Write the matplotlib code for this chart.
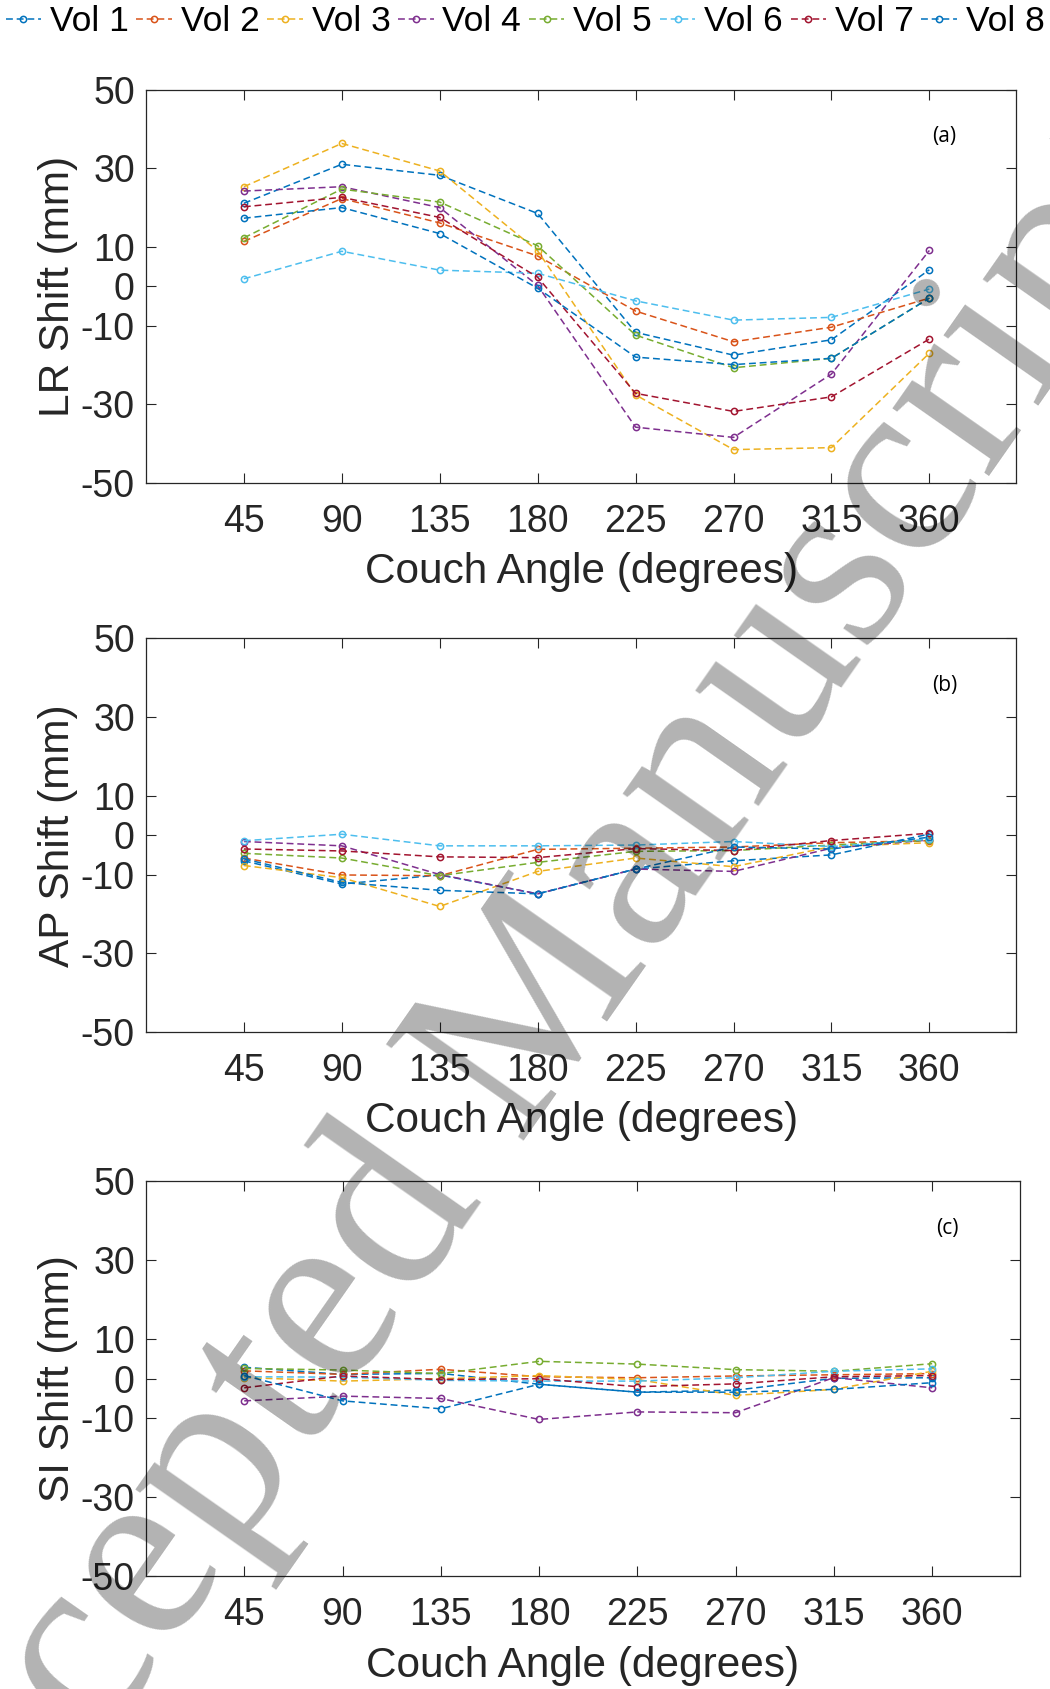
import matplotlib
matplotlib.use("Agg")
import matplotlib.pyplot as plt

plt.rcParams["font.family"] = ["Liberation Sans", "DejaVu Sans"]
plt.rcParams["axes.unicode_minus"] = False

angles = [45, 90, 135, 180, 225, 270, 315, 360]
vol_names = ["Vol 1", "Vol 2", "Vol 3", "Vol 4", "Vol 5", "Vol 6", "Vol 7", "Vol 8"]
vol_colors = ["#0072BD", "#D95319", "#EDB120", "#7E2F8E",
              "#77AC30", "#4DBEEE", "#A2142F", "#0072BD"]

# shifts (mm) per volunteer
lr_shift = [
    [21.1, 31.0, 28.2, 18.5, -11.7, -17.5, -13.6, 4.2],
    [11.4, 22.3, 16.1, 7.7, -6.3, -14.1, -10.4, -3.0],
    [25.3, 36.3, 29.3, 9.0, -27.6, -41.5, -41.0, -17.0],
    [24.2, 25.3, 20.0, 0.2, -35.8, -38.4, -22.3, 9.1],
    [12.3, 24.7, 21.4, 10.3, -12.4, -20.7, -18.3, -3.0],
    [1.9, 8.9, 4.1, 3.3, -3.7, -8.6, -7.9, -0.7],
    [20.2, 22.6, 17.5, 2.3, -27.2, -31.8, -28.1, -13.4],
    [17.3, 20.0, 13.4, -0.5, -18.0, -19.9, -18.3, -3.0],
]
ap_shift = [
    [-6.5, -12.4, -10.1, -14.9, -8.6, -6.5, -5.0, 0.3],
    [-5.8, -10.1, -10.3, -3.6, -3.3, -3.0, -1.9, -1.4],
    [-7.7, -10.8, -18.1, -9.2, -5.8, -8.0, -2.9, -1.9],
    [-1.6, -2.7, -10.0, -14.9, -8.6, -9.2, -3.3, -1.2],
    [-4.6, -5.8, -10.3, -6.9, -4.1, -3.9, -2.5, -1.3],
    [-1.4, 0.25, -2.7, -2.7, -2.5, -1.6, -2.9, -1.0],
    [-3.5, -4.0, -5.5, -5.7, -3.4, -3.9, -1.35, 0.5],
    [-6.0, -12.0, -14.0, -14.9, -8.6, -3.0, -3.5, -0.5],
]
si_shift = [
    [2.9, 1.1, 1.35, -1.4, -3.4, -2.9, 0.1, 0.25],
    [2.0, 1.1, 2.4, 0.5, 0.25, 0.7, 1.0, 1.3],
    [0.3, -0.6, 0.0, 0.8, -0.2, -4.2, -2.7, 1.9],
    [-5.6, -4.4, -5.0, -10.3, -8.4, -8.6, 0.3, -2.3],
    [2.6, 2.2, 1.3, 4.4, 3.7, 2.3, 1.9, 3.8],
    [0.5, 0.4, -0.4, -0.6, -0.6, 0.25, 1.9, 2.5],
    [-2.3, 0.7, -0.2, 0.0, -2.0, -1.3, 0.5, 0.8],
    [0.8, -5.6, -7.6, -1.4, -3.4, -3.4, -2.7, -1.0],
]
y_labels = ["LR Shift (mm)", "AP Shift (mm)", "SI Shift (mm)"]
panel_tags = ["(a)", "(b)", "(c)"]
y_ticks = [-50, -30, -10, 0, 10, 30, 50]

fig = plt.figure(figsize=(10.5, 16.89), dpi=100)
boxes = [
    [0.139, 0.714, 0.829, 0.233],
    [0.139, 0.389, 0.829, 0.233],
    [0.139, 0.0667, 0.832, 0.234],
]

handles = []
for k, data in enumerate([lr_shift, ap_shift, si_shift]):
    ax = fig.add_axes(boxes[k])
    for i, vals in enumerate(data):
        ln, = ax.plot(angles, vals, linestyle="--", dashes=(4.5, 2.5), lw=1.1,
                      color=vol_colors[i], marker="o", markersize=4.5,
                      markerfacecolor="none", markeredgewidth=1.1,
                      label=vol_names[i])
        if k == 0:
            handles.append(ln)
    ax.set_xlim(0, 400)
    ax.set_ylim(-50, 50)
    ax.set_xticks(angles)
    ax.set_yticks(y_ticks)
    ax.tick_params(direction="in", length=7, width=0.8, top=True, right=True,
                   labelsize=27, colors="#262626", labelcolor="#262626")
    ax.tick_params(axis="x", pad=15)
    ax.tick_params(axis="y", pad=8)
    for sp in ax.spines.values():
        sp.set_linewidth(0.9)
        sp.set_color("#262626")
    ax.set_xlabel("Couch Angle (degrees)", fontsize=30.5, labelpad=9, color="#262626")
    ax.set_ylabel(y_labels[k], fontsize=30.5, labelpad=2, color="#262626")
    ax.text(367, 38, panel_tags[k], fontsize=15, ha="center", va="center",
            family=["Open Sans", "DejaVu Sans"])

fig.legend(handles=handles, loc="center", bbox_to_anchor=(0.5, 0.987), ncol=8,
           frameon=False, fontsize=25.5, handlelength=1.0, handletextpad=0.25,
           columnspacing=0.22, borderpad=0, borderaxespad=0)

# watermark
fig.text(0.485, 0.375, "Accepted Manuscript", rotation=55, rotation_mode="anchor",
         ha="center", va="center", fontsize=185, color="black", alpha=0.3,
         family=["Liberation Serif", "DejaVu Serif"], zorder=10)

fig.savefig("out.png", dpi=100)
